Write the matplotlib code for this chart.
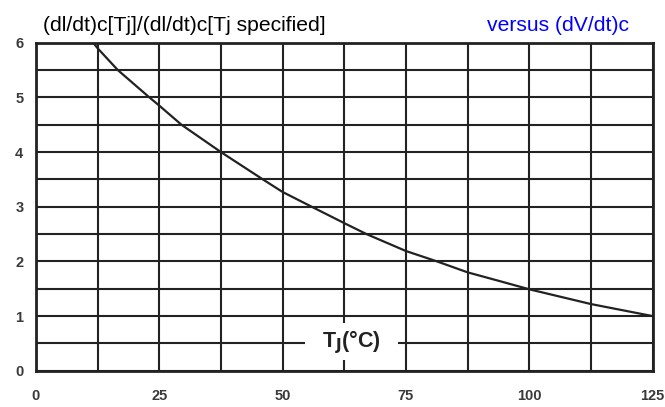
import matplotlib
matplotlib.use("Agg")
import matplotlib.pyplot as plt
from matplotlib.patches import Rectangle
import numpy as np

# Data
tj = [11.6, 12.5, 16.6, 23, 25, 29.5, 37.5, 46, 50, 55.9, 62.5, 67, 75, 81.3, 87.5, 94, 100, 112.5, 125]
ratio = [6.0, 5.9, 5.5, 5.0, 4.85, 4.5, 4.0, 3.5, 3.27, 3.0, 2.7, 2.5, 2.19, 2.0, 1.8, 1.64, 1.49, 1.22, 1.0]
xticks = [0, 25, 50, 75, 100, 125]
yticks = [0, 1, 2, 3, 4, 5, 6]

plt.rcParams['font.family'] = ['Liberation Sans', 'DejaVu Sans']

fig = plt.figure(figsize=(6.65, 4.07), dpi=100)
ax = fig.add_axes([0.054, 0.089, 0.9275, 0.806])
ax.set_xlim(0, 125)
ax.set_ylim(0, 6)

# grid
for gx in np.arange(0, 125.1, 12.5):
    ax.axvline(gx, color='#222222', lw=1.5, zorder=1)
for gy in np.arange(0, 6.01, 0.5):
    ax.axhline(gy, color='#222222', lw=1.5, zorder=1)

ax.plot(tj, ratio, color='#222222', lw=1.6, zorder=3)

ax.set_xticks(xticks)
ax.set_yticks(yticks)
ax.tick_params(length=0, labelsize=10.5, colors='#3a3a3a')
ax.tick_params(axis='x', pad=13)
ax.tick_params(axis='y', pad=9)
for lab in ax.get_xticklabels() + ax.get_yticklabels():
    lab.set_fontweight('bold')
for s in ax.spines.values():
    s.set_linewidth(2)
    s.set_color('#222222')

# white label box interrupting the grid
ax.add_patch(Rectangle((54.6, 0.2), 18.8, 0.67, fc='white', ec='none', zorder=4))
ax.text(64.0, 0.53, r'T$_\mathbf{J}$(°C)', fontsize=15.5, fontweight='bold',
        ha='center', va='center', color='#222222', zorder=5)

fig.text(0.065, 0.925, '(dl/dt)c[Tj]/(dl/dt)c[Tj specified]', fontsize=15.2,
         ha='left', va='baseline', color='black')
fig.text(0.946, 0.925, 'versus (dV/dt)c', fontsize=15.2,
         ha='right', va='baseline', color='#0000ff')

fig.savefig('out.png', dpi=100)
